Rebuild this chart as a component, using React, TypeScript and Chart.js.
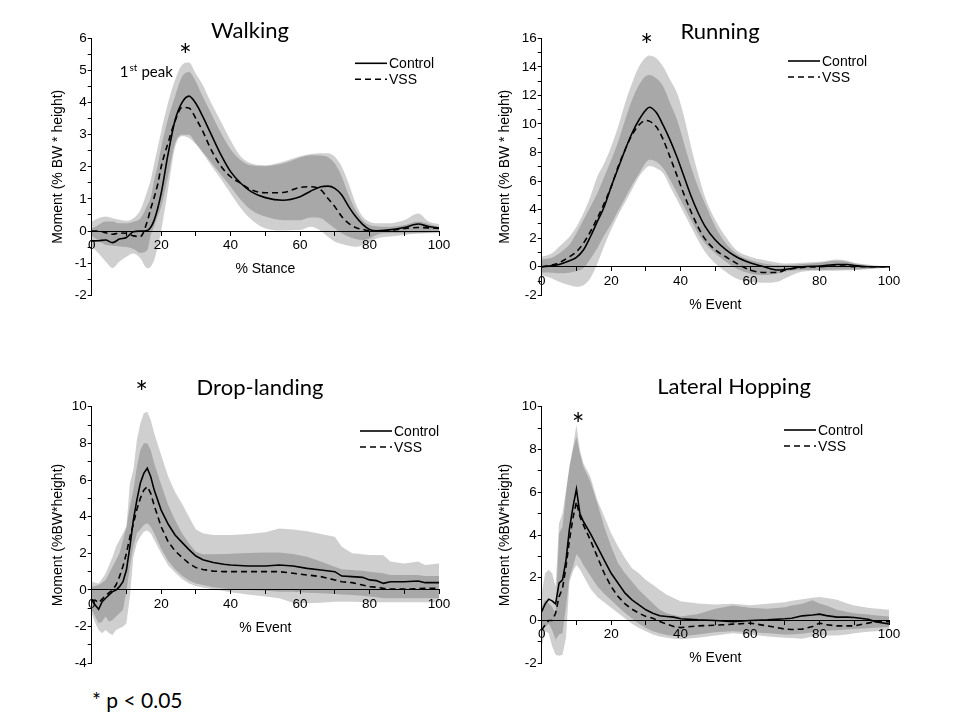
import React, { useEffect, useRef } from "react";
import { Chart, registerables } from "chart.js";

Chart.register(...registerables);

// ---------------- Walking ----------------
const walkX = [0, 2, 4, 6, 8, 10, 12, 14, 16, 17, 18, 19, 20, 22, 24, 26, 28, 30, 32, 34, 37, 40, 43, 46, 50, 55, 60, 63, 66, 68, 70, 72, 74, 76, 78, 80, 82, 85, 90, 94, 97, 100];
const walkControl = [-0.31, -0.3, -0.28, -0.36, -0.25, -0.2, -0.02, 0.0, 0.02, 0.12, 0.34, 0.7, 1.17, 2.4, 3.45, 4.0, 4.2, 3.97, 3.56, 3.1, 2.42, 1.85, 1.48, 1.22, 1.04, 0.96, 1.07, 1.24, 1.38, 1.4, 1.33, 1.12, 0.76, 0.45, 0.21, 0.05, 0.01, 0.03, 0.11, 0.22, 0.14, 0.1];
const walkVSS = [0.0, 0.0, -0.05, -0.1, -0.06, -0.07, -0.15, -0.17, 0.3, 0.7, 1.05, 1.45, 2.0, 2.75, 3.42, 3.85, 3.83, 3.5, 3.1, 2.62, 2.05, 1.69, 1.48, 1.28, 1.19, 1.2, 1.36, 1.38, 1.28, 1.02, 0.76, 0.45, 0.24, 0.11, 0.05, 0.01, 0.01, 0.01, 0.08, 0.11, 0.1, 0.08];
const walkControlSdHi = [0.3, 0.4, 0.45, 0.4, 0.35, 0.32, 0.4, 0.65, 1.25, 1.6, 2.1, 2.6, 3.1, 4.0, 4.7, 5.17, 5.25, 4.9, 4.55, 4.08, 3.45, 2.83, 2.31, 2.1, 2.05, 2.16, 2.33, 2.4, 2.42, 2.42, 2.31, 2.0, 1.48, 0.86, 0.45, 0.29, 0.24, 0.24, 0.34, 0.55, 0.3, 0.22];
const walkControlSdLo = [-0.15, -0.3, -0.43, -0.46, -0.48, -0.5, -0.56, -0.68, -0.6, -0.12, 0.15, 0.45, 0.75, 1.7, 2.73, 3.0, 3.0, 2.73, 2.45, 2.2, 1.78, 1.38, 0.96, 0.65, 0.45, 0.34, 0.34, 0.42, 0.4, 0.25, 0.08, -0.07, -0.18, -0.25, -0.28, -0.23, -0.12, -0.07, -0.07, -0.07, -0.05, -0.02];
const walkVssSdHi = [0.08, 0.2, 0.3, 0.3, 0.24, 0.24, 0.29, 0.39, 0.8, 1.05, 1.6, 2.05, 2.6, 3.5, 4.2, 4.8, 4.95, 4.65, 4.18, 3.75, 3.1, 2.55, 2.2, 2.05, 2.02, 2.1, 2.29, 2.36, 2.35, 2.3, 2.1, 1.69, 1.12, 0.65, 0.34, 0.19, 0.15, 0.13, 0.19, 0.3, 0.22, 0.13];
const walkVssSdLo = [-0.49, -0.7, -0.95, -1.15, -0.95, -0.8, -0.7, -0.85, -1.16, -1.11, -0.9, -0.5, 0.0, 1.3, 2.6, 2.95, 2.9, 2.7, 2.42, 2.1, 1.65, 1.17, 0.7, 0.35, 0.08, 0.02, 0.03, 0.13, 0.0, -0.18, -0.33, -0.4, -0.46, -0.49, -0.44, -0.35, -0.23, -0.18, -0.12, -0.08, -0.07, -0.07];
const walkStar = [27, 5.6];
const walkPeakNote = [8.1, 4.96];

// ---------------- Running ----------------
const runX = [0, 3, 5, 8, 10, 12, 14, 16, 18, 20, 22, 24, 26, 28, 30, 31, 33, 35, 37, 39, 41, 43, 45, 47, 50, 53, 56, 60, 64, 68, 70, 75, 80, 85, 88, 90, 95, 100];
const runControl = [0, 0.06, 0.16, 0.42, 0.65, 1.17, 2.1, 3.15, 4.2, 5.6, 6.9, 8.18, 9.35, 10.28, 10.98, 11.17, 10.8, 9.9, 8.85, 7.65, 6.3, 4.95, 3.8, 2.85, 1.87, 1.2, 0.7, 0.28, 0.0, -0.23, -0.19, 0.0, 0.05, 0.16, 0.16, 0.09, 0.0, 0.0];
const runVSS = [0, 0.12, 0.28, 0.7, 1.05, 1.64, 2.45, 3.39, 4.44, 5.6, 7.0, 8.18, 9.23, 9.93, 10.25, 10.2, 9.8, 8.9, 7.65, 6.35, 5.05, 3.85, 2.8, 1.95, 1.17, 0.7, 0.25, -0.23, -0.4, -0.4, -0.23, -0.05, 0.0, 0.05, 0.05, 0.0, 0.0, 0.0];
const runControlSdHi = [0.7, 0.95, 1.4, 2.1, 2.8, 3.74, 4.9, 6.3, 7.24, 8.4, 9.8, 11.45, 12.85, 14.0, 14.67, 14.79, 14.6, 14.0, 13.08, 12.15, 10.5, 8.4, 6.54, 4.9, 3.27, 2.1, 1.17, 0.7, 0.47, 0.28, 0.23, 0.28, 0.35, 0.51, 0.42, 0.28, 0.12, 0.0];
const runControlSdLo = [-0.4, -0.42, -0.45, -0.42, -0.3, -0.1, 0.55, 1.3, 2.2, 3.0, 3.9, 4.8, 5.7, 6.5, 7.3, 7.5, 7.36, 6.9, 6.07, 5.14, 4.2, 3.27, 2.34, 1.64, 0.93, 0.35, -0.12, -0.47, -0.58, -0.47, -0.35, -0.23, -0.23, -0.19, -0.19, -0.19, -0.12, -0.05];
const runVssSdHi = [0.5, 0.65, 0.93, 1.55, 2.34, 3.27, 4.2, 5.14, 6.3, 7.48, 8.76, 10.28, 11.68, 12.73, 13.36, 13.43, 13.2, 12.62, 11.45, 10.28, 8.64, 7.0, 5.6, 4.44, 2.8, 1.64, 0.93, 0.47, 0.23, 0.12, 0.12, 0.19, 0.28, 0.42, 0.35, 0.23, 0.07, 0.0];
const runVssSdLo = [-0.6, -0.82, -1.05, -1.3, -1.4, -1.3, -0.8, 0.2, 1.45, 2.6, 3.6, 4.5, 5.4, 6.3, 6.9, 7.05, 6.9, 6.54, 5.6, 4.67, 3.74, 2.8, 1.87, 1.05, 0.23, -0.35, -0.82, -1.05, -1.12, -1.05, -0.82, -0.35, -0.28, -0.28, -0.25, -0.23, -0.16, -0.05];
const runStar = [30.2, 15.8];

// ---------------- Drop-landing ----------------
const dropX = [0, 1, 2, 3, 4, 5, 6, 7, 8, 9, 10, 11, 12, 13, 14, 15, 16, 17, 18, 20, 22, 24, 26, 28, 30, 32, 35, 38, 40, 45, 50, 54, 58, 62, 66, 70, 72, 75, 78, 80, 82, 84, 86, 90, 94, 96, 100];
const dropControl = [-0.55, -0.82, -1.05, -0.64, -0.45, -0.27, -0.09, 0.0, 0.18, 0.45, 1.09, 2.36, 3.82, 4.9, 5.82, 6.36, 6.64, 6.18, 5.45, 4.36, 3.6, 3.0, 2.6, 2.2, 1.85, 1.65, 1.5, 1.4, 1.36, 1.31, 1.31, 1.36, 1.31, 1.18, 1.09, 1.0, 0.76, 0.73, 0.69, 0.55, 0.51, 0.36, 0.45, 0.45, 0.49, 0.4, 0.4];
const dropVSS = [-0.6, -0.55, -0.7, -0.5, -0.3, -0.15, 0.0, 0.27, 0.73, 1.3, 2.0, 2.9, 3.6, 4.4, 5.0, 5.45, 5.64, 5.27, 4.6, 3.45, 2.64, 2.13, 1.78, 1.45, 1.22, 1.12, 1.03, 1.0, 1.0, 1.0, 1.0, 1.0, 0.91, 0.82, 0.73, 0.55, 0.45, 0.4, 0.27, 0.18, 0.15, 0.09, 0.05, 0.05, 0.07, 0.09, 0.09];
const dropControlSdHi = [0.45, 0.4, 0.36, 0.6, 0.9, 1.35, 1.82, 2.36, 2.73, 3.09, 3.45, 5.82, 6.55, 8.18, 9.09, 9.64, 9.73, 9.27, 8.55, 7.36, 6.2, 5.35, 4.7, 4.0, 3.3, 3.09, 3.0, 3.0, 3.0, 3.05, 3.15, 3.35, 3.3, 3.2, 3.05, 2.91, 2.36, 2.0, 1.95, 1.91, 1.91, 1.9, 1.55, 1.45, 1.55, 1.36, 1.45];
const dropControlSdLo = [-1.09, -1.45, -1.82, -1.73, -1.45, -1.73, -1.64, -1.45, -1.27, -1.09, -0.09, 1.27, 2.36, 3.09, 3.3, 3.55, 3.64, 3.45, 3.09, 2.25, 1.6, 1.13, 0.78, 0.52, 0.36, 0.27, 0.15, 0.08, 0.04, 0.0, -0.04, -0.09, -0.09, -0.15, -0.18, -0.22, -0.24, -0.27, -0.32, -0.36, -0.4, -0.45, -0.45, -0.45, -0.45, -0.45, -0.45];
const dropVssSdHi = [0.18, 0.22, 0.27, 0.4, 0.55, 0.9, 1.27, 1.64, 2.0, 2.73, 3.45, 4.55, 5.45, 6.73, 7.64, 8.0, 8.0, 7.64, 6.91, 5.75, 4.65, 3.82, 3.09, 2.55, 2.09, 1.95, 1.95, 1.96, 1.98, 2.02, 2.04, 2.04, 1.96, 1.82, 1.55, 1.27, 1.13, 1.09, 1.05, 1.0, 0.95, 0.91, 0.82, 0.82, 0.82, 0.76, 0.76];
const dropVssSdLo = [-1.27, -1.8, -2.18, -2.36, -2.18, -2.36, -2.45, -2.18, -2.09, -2.0, -1.82, -0.36, 1.82, 2.55, 2.91, 3.18, 3.24, 3.09, 2.73, 2.0, 1.35, 0.95, 0.6, 0.36, 0.22, 0.13, 0.04, -0.05, -0.12, -0.25, -0.36, -0.45, -0.7, -0.72, -0.69, -0.64, -0.64, -0.64, -0.66, -0.67, -0.67, -0.67, -0.67, -0.67, -0.67, -0.67, -0.67];
const dropStar = [14.4, 11.0];

// ---------------- Lateral Hopping ----------------
const latX = [0, 1, 2, 3, 4, 5, 6, 7, 8, 9, 10, 11, 12, 14, 16, 18, 20, 22, 24, 26, 28, 30, 32, 34, 36, 38, 40, 45, 50, 55, 60, 65, 70, 72, 75, 78, 80, 82, 85, 88, 90, 94, 96, 100];
const latControl = [0.42, 0.78, 1.0, 0.92, 0.78, 1.75, 1.9, 2.83, 4.3, 5.3, 6.15, 5.0, 4.63, 4.08, 3.46, 2.83, 2.21, 1.74, 1.28, 0.97, 0.73, 0.5, 0.34, 0.22, 0.19, 0.16, 0.08, 0.03, 0.0, -0.05, 0.0, 0.03, 0.08, 0.11, 0.22, 0.26, 0.3, 0.23, 0.16, 0.16, 0.14, 0.06, -0.05, -0.16];
const latVSS = [-0.45, -0.2, 0.0, 0.0, 0.34, 1.12, 1.51, 2.52, 3.77, 4.8, 5.55, 4.86, 4.47, 3.77, 2.99, 2.21, 1.59, 1.12, 0.78, 0.53, 0.34, 0.19, 0.11, -0.05, -0.16, -0.28, -0.33, -0.25, -0.22, -0.17, -0.12, -0.25, -0.4, -0.42, -0.4, -0.28, -0.12, -0.2, -0.25, -0.25, -0.25, -0.12, -0.05, -0.05];
const latControlSdHi = [1.28, 2.21, 2.37, 2.21, 1.59, 4.55, 5.0, 6.1, 7.2, 8.13, 9.14, 7.97, 7.35, 6.73, 5.64, 4.86, 4.08, 3.46, 2.91, 2.45, 2.21, 1.9, 1.67, 1.43, 1.2, 1.05, 0.9, 0.8, 0.75, 0.78, 0.72, 0.78, 0.85, 0.92, 1.0, 1.07, 1.1, 1.05, 0.97, 0.8, 0.7, 0.6, 0.56, 0.5];
const latControlSdLo = [-0.5, -0.3, -0.15, -0.44, -0.9, -0.65, -0.6, 0.65, 2.0, 2.5, 3.1, 2.9, 2.6, 2.1, 1.6, 1.25, 0.95, 0.65, 0.35, 0.1, -0.15, -0.35, -0.5, -0.6, -0.68, -0.72, -0.75, -0.65, -0.55, -0.5, -0.55, -0.6, -0.65, -0.65, -0.62, -0.55, -0.5, -0.48, -0.45, -0.42, -0.4, -0.36, -0.34, -0.3];
const latVssSdHi = [0.65, 0.97, 0.81, 0.65, 0.34, 4.08, 4.39, 5.95, 7.2, 8.0, 8.6, 7.82, 7.2, 6.5, 5.5, 4.39, 3.46, 2.68, 2.21, 1.82, 1.43, 1.12, 0.81, 0.5, 0.34, 0.26, 0.19, 0.3, 0.55, 0.7, 0.6, 0.55, 0.62, 0.7, 0.78, 0.95, 0.8, 0.7, 0.5, 0.4, 0.34, 0.28, 0.25, 0.19];
const latVssSdLo = [-1.2, -0.5, -0.6, -1.2, -1.6, -1.65, -1.6, -0.8, 1.8, 2.3, 2.6, 2.4, 2.1, 1.5, 1.1, 0.85, 0.6, 0.35, 0.1, -0.15, -0.35, -0.5, -0.65, -0.75, -0.8, -0.85, -0.88, -0.8, -0.7, -0.6, -0.65, -0.75, -0.8, -0.82, -0.85, -0.75, -0.7, -0.7, -0.7, -0.65, -0.6, -0.52, -0.5, -0.45];
const latStar = [10.5, 9.38];

const BAND_COLOR = "rgba(0,0,0,0.19)";
const AXIS_FONT = "'Liberation Sans', Arial, sans-serif";
const TEXT_FONT = "Lato, 'Open Sans', sans-serif";

type PanelCfg = {
  key: string;
  title: string;
  xs: number[];
  control: number[];
  vss: number[];
  controlHi: number[];
  controlLo: number[];
  vssHi: number[];
  vssLo: number[];
  yMin: number;
  yMax: number;
  yStep: number;
  yLabelStep: number;
  xTitle: string;
  yTitle: string;
  smooth: boolean;
  star: number[];
  peakNote?: number[];
  box: { left: number; top: number; width: number; height: number };
  pad: { left: number; right: number; top: number; bottom: number };
  yWidth: number;
  titlePos: number[];
  legendPos: number[];
};

const panels: PanelCfg[] = [
  {
    key: "walk", title: "Walking", xs: walkX, control: walkControl, vss: walkVSS,
    controlHi: walkControlSdHi, controlLo: walkControlSdLo, vssHi: walkVssSdHi, vssLo: walkVssSdLo,
    yMin: -2, yMax: 6, yStep: 0.5, yLabelStep: 1, xTitle: "% Stance", yTitle: "Moment (% BW * height)",
    smooth: true, star: walkStar, peakNote: walkPeakNote,
    box: { left: 40, top: 0, width: 420, height: 320 },
    pad: { left: 9.7, right: 21, top: 38.3, bottom: 24.7 }, yWidth: 42,
    titlePos: [158.3, -7.3], legendPos: [-84, 25],
  },
  {
    key: "run", title: "Running", xs: runX, control: runControl, vss: runVSS,
    controlHi: runControlSdHi, controlLo: runControlSdLo, vssHi: runVssSdHi, vssLo: runVssSdLo,
    yMin: -2, yMax: 16, yStep: 1, yLabelStep: 2, xTitle: "% Event", yTitle: "Moment (% BW * height)",
    smooth: true, star: runStar,
    box: { left: 490, top: 0, width: 420, height: 320 },
    pad: { left: 6.3, right: 21, top: 38.3, bottom: 24.7 }, yWidth: 45.4,
    titlePos: [178.3, -6.3], legendPos: [-101, 22.7],
  },
  {
    key: "drop", title: "Drop-landing", xs: dropX, control: dropControl, vss: dropVSS,
    controlHi: dropControlSdHi, controlLo: dropControlSdLo, vssHi: dropVssSdHi, vssLo: dropVssSdLo,
    yMin: -4, yMax: 10, yStep: 1, yLabelStep: 2, xTitle: "% Event", yTitle: "Moment (%BW*height)",
    smooth: false, star: dropStar,
    box: { left: 40, top: 360, width: 420, height: 320 },
    pad: { left: 9.7, right: 21, top: 46.7, bottom: 16.7 }, yWidth: 42,
    titlePos: [168.3, -18.7], legendPos: [-79, 24.3],
  },
  {
    key: "lat", title: "Lateral Hopping", xs: latX, control: latControl, vss: latVSS,
    controlHi: latControlSdHi, controlLo: latControlSdLo, vssHi: latVssSdHi, vssLo: latVssSdLo,
    yMin: -2, yMax: 10, yStep: 1, yLabelStep: 2, xTitle: "% Event", yTitle: "Moment (%BW*height)",
    smooth: false, star: latStar,
    box: { left: 490, top: 360, width: 420, height: 320 },
    pad: { left: 6.3, right: 21, top: 46.7, bottom: 16.7 }, yWidth: 45.4,
    titlePos: [192.3, -19.7], legendPos: [-105, 23.3],
  },
];

const pts = (xs: number[], ys: number[]) => xs.map((x, i) => ({ x, y: ys[i] }));

function makeDecor(p: PanelCfg) {
  return {
    id: "decor_" + p.key,
    afterDraw(chart: any) {
      const { ctx, chartArea: ca, scales } = chart;
      const xs = scales.x;
      const ys = scales.y;
      ctx.save();
      ctx.fillStyle = "#000";
      // panel title
      ctx.font = `22px ${TEXT_FONT}`;
      ctx.textAlign = "center";
      ctx.textBaseline = "middle";
      ctx.fillText(p.title, ca.left + p.titlePos[0], ca.top + p.titlePos[1]);
      // significance star
      ctx.font = `30px ${TEXT_FONT}`;
      ctx.textBaseline = "alphabetic";
      ctx.fillText("*", xs.getPixelForValue(p.star[0]), ys.getPixelForValue(p.star[1]) + 15);
      // legend
      ctx.font = `14px ${AXIS_FONT}`;
      ctx.textAlign = "left";
      ctx.textBaseline = "middle";
      chart.data.datasets.slice(0, 2).forEach((ds: any, i: number) => {
        const y = ca.top + p.legendPos[1] + i * 16;
        const x0 = ca.right + p.legendPos[0];
        ctx.strokeStyle = ds.borderColor;
        ctx.lineWidth = ds.borderWidth;
        ctx.setLineDash(ds.borderDash || []);
        ctx.beginPath();
        ctx.moveTo(x0, y);
        ctx.lineTo(x0 + 32, y);
        ctx.stroke();
        ctx.setLineDash([]);
        ctx.fillText(ds.label, x0 + 34, y + 1);
      });
      // "1st peak" note
      if (p.peakNote) {
        const px = xs.getPixelForValue(p.peakNote[0]);
        const py = ys.getPixelForValue(p.peakNote[1]);
        ctx.textBaseline = "alphabetic";
        ctx.font = `15px ${TEXT_FONT}`;
        ctx.fillText("1", px, py + 5);
        const w1 = ctx.measureText("1").width;
        ctx.font = `10px ${TEXT_FONT}`;
        ctx.fillText("st", px + w1 + 1, py - 1);
        const w2 = ctx.measureText("st").width;
        ctx.font = `15px ${TEXT_FONT}`;
        ctx.fillText("peak", px + w1 + w2 + 5, py + 5);
      }
      ctx.restore();
    },
  };
}

function buildConfig(p: PanelCfg): any {
  const common = {
    pointRadius: 0,
    pointHoverRadius: 0,
    cubicInterpolationMode: p.smooth ? "monotone" : "default",
    tension: 0,
  };
  const bandBorder = "rgba(0,0,0,0)";
  return {
    type: "line",
    data: {
      datasets: [
        { ...common, label: "Control", data: pts(p.xs, p.control), borderColor: "#000", borderWidth: 1.6, fill: false, order: 0 },
        { ...common, label: "VSS", data: pts(p.xs, p.vss), borderColor: "#000", borderWidth: 1.6, borderDash: [6, 4], fill: false, order: 1 },
        { ...common, label: "Control SD", data: pts(p.xs, p.controlHi), borderColor: bandBorder, borderWidth: 0, backgroundColor: BAND_COLOR, fill: "+1", order: 2 },
        { ...common, label: "Control SD lower", data: pts(p.xs, p.controlLo), borderColor: bandBorder, borderWidth: 0, fill: false, order: 3 },
        { ...common, label: "VSS SD", data: pts(p.xs, p.vssHi), borderColor: bandBorder, borderWidth: 0, backgroundColor: BAND_COLOR, fill: "+1", order: 4 },
        { ...common, label: "VSS SD lower", data: pts(p.xs, p.vssLo), borderColor: bandBorder, borderWidth: 0, fill: false, order: 5 },
      ],
    },
    options: {
      responsive: false,
      animation: false,
      events: [],
      layout: { padding: p.pad },
      plugins: {
        legend: { display: false },
        tooltip: { enabled: false },
        title: { display: false },
      },
      scales: {
        x: {
          type: "linear",
          position: { y: 0 },
          min: 0,
          max: 100,
          afterFit: (scale: any) => { scale.height = 46.4; },
          grid: { display: true, drawOnChartArea: false, drawTicks: true, tickLength: 4, color: "#000", lineWidth: 1 },
          border: { display: true, color: "#000", width: 1 },
          ticks: {
            stepSize: 10,
            autoSkip: false,
            maxRotation: 0,
            padding: 2,
            color: "#000",
            font: { family: AXIS_FONT, size: 13.5 },
            callback: (v: number) => (Math.abs(v % 20) < 1e-6 ? String(v) : ""),
          },
          title: { display: true, text: p.xTitle, color: "#000", padding: 0, font: { family: AXIS_FONT, size: 14 } },
        },
        y: {
          type: "linear",
          position: "left",
          min: p.yMin,
          max: p.yMax,
          afterFit: (scale: any) => { scale.width = p.yWidth; },
          grid: { display: true, drawOnChartArea: false, drawTicks: true, tickLength: 4, color: "#000", lineWidth: 1 },
          border: { display: true, color: "#000", width: 1 },
          ticks: {
            stepSize: p.yStep,
            autoSkip: false,
            padding: 1,
            color: "#000",
            font: { family: AXIS_FONT, size: 13.5 },
            callback: (v: number) => {
              const r = v / p.yLabelStep;
              return Math.abs(r - Math.round(r)) < 1e-6 ? String(Math.round(v)) : "";
            },
          },
          title: { display: true, text: p.yTitle, color: "#000", padding: 0, font: { family: AXIS_FONT, size: 14 } },
        },
      },
    },
    plugins: [makeDecor(p)],
  };
}

function Panel({ cfg }: { cfg: PanelCfg }) {
  const ref = useRef<HTMLCanvasElement | null>(null);
  useEffect(() => {
    if (!ref.current) return;
    const chart = new Chart(ref.current, buildConfig(cfg));
    return () => chart.destroy();
  }, [cfg]);
  return (
    <canvas
      ref={ref}
      width={cfg.box.width}
      height={cfg.box.height}
      style={{ position: "absolute", left: cfg.box.left, top: cfg.box.top, width: cfg.box.width, height: cfg.box.height }}
    />
  );
}

export default function App() {
  return (
    <div style={{ position: "absolute", left: 0, top: 0, width: 960, height: 720, background: "#fff", overflow: "hidden" }}>
      {panels.map((p) => (
        <Panel key={p.key} cfg={p} />
      ))}
      <div
        style={{
          position: "absolute",
          left: 92,
          top: 688,
          fontFamily: TEXT_FONT,
          fontSize: 21,
          lineHeight: "24px",
          color: "#000",
          whiteSpace: "nowrap",
        }}
      >
        * p &lt; 0.05
      </div>
    </div>
  );
}
